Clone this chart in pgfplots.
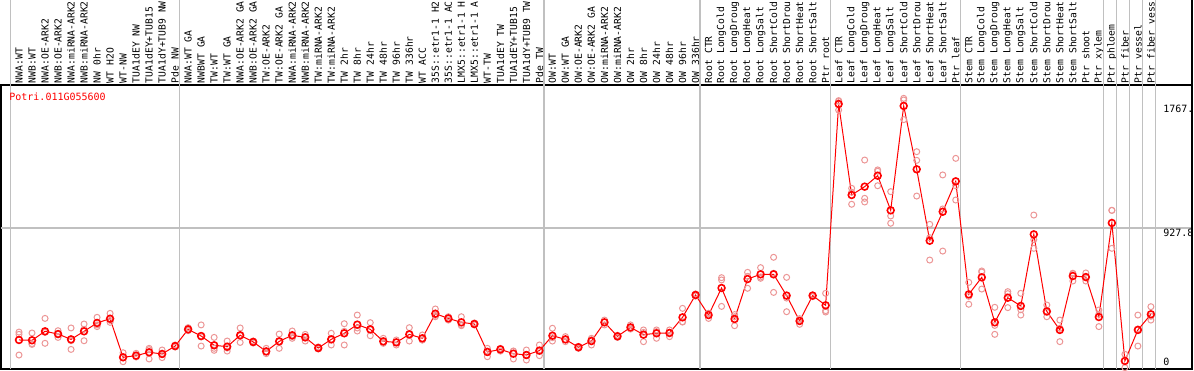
\documentclass[border=0pt]{standalone}
\usepackage{fontspec}
\setmainfont{DejaVu Sans Mono}
\setmonofont{DejaVu Sans Mono}
\usepackage{pgfplots}
\usepackage{pgfplotstable}
\pgfplotsset{compat=1.18}
\definecolor{rep}{RGB}{236,150,150}
\definecolor{sep}{RGB}{192,192,192}
\pgfplotstableread{
i m r1 r2 r3
0 191 243 228 92
1 189 237 167 162
2 248 333 241 169
3 230 252 230 208
4 195 270 129 186
5 248 296 186 261
6 303 340 290 279
7 331 366 307 320
8 77 107 48 75
9 88 103 81 79
10 110 136 66 127
11 99 125 75 97
12 151 158 151 145
13 261 272 252 259
14 217 290 151 211
15 156 208 123 136
16 147 184 118 138
17 222 270 175 219
18 178 184 178 171
19 116 136 101 112
20 182 230 136 180
21 222 250 202 213
22 208 228 184 213
23 138 145 138 132
24 195 235 158 193
25 235 298 158 248
26 292 355 250 270
27 261 305 219 259
28 182 202 169 175
29 175 191 158 178
30 228 272 184 228
31 202 224 191 191
32 364 395 344 353
33 333 344 322 333
34 307 344 285 292
35 296 303 296 290
36 112 136 81 118
37 129 136 118 134
38 101 118 66 118
39 92 125 59 92
40 121 158 88 116
41 219 268 184 206
42 195 213 180 193
43 143 149 143 136
44 184 202 158 193
45 307 322 290 309
46 215 222 215 208
47 274 290 263 270
48 226 257 180 241
49 235 257 202 246
50 237 257 213 241
51 340 399 311 309
52 487 494 487 480
53 355 366 333 366
54 533 601 586 412
55 329 344 285 358
56 592 636 531 610
57 623 667 597 605
58 623 735 504 630
59 483 603 377 467
60 316 322 294 331
61 483 487 476 485
62 419 498 384 375
63 1744 1766 1704 1761
64 1145 1189 1084 1163
65 1200 1375 1123 1099
66 1272 1310 1206 1301
67 1044 1167 1007 959
68 1731 1781 1641 1770
69 1314 1430 1138 1373
70 844 952 717 864
71 1035 1277 776 1053
72 1235 1386 1112 1206
73 491 570 426 478
74 603 645 526 638
75 307 406 228 287
76 469 509 404 496
77 415 498 355 390
78 886 1013 794 851
79 379 421 344 373
80 257 322 180 268
81 612 630 579 627
82 605 605 579 632
83 342 388 279 360
84 961 1044 794 1044
85 53 97 9 53
86 257 355 151 263
87 360 410 322 347
}\data
\begin{document}
\begin{tikzpicture}
\useasboundingbox (0,0) rectangle (597pt,185pt);
\begin{axis}[
  at={(0.5pt,0.5pt)}, anchor=south west,
  width=595.5pt, height=142pt, scale only axis,
  xmin=-1.3836, xmax=90.16, ymin=0, ymax=1868.8,
  clip=false,
  axis line style={line width=1pt},
  xtick={0,...,87},
  xticklabels={{NWA:WT},{NWB:WT},{NWA:OE-ARK2},{NWB:OE-ARK2},{NWA:miRNA-ARK2},{NWB:miRNA-ARK2},{NW 0hr},{WT H2O},{WT-NW},{TUA1dEY NW},{TUA1dEY+TUB15},{TUA1dY+TUB9 NW},{Pde NW},{NWA:WT GA},{NWBWT GA},{TW:WT},{TW:WT GA},{NWA:OE-ARK2 GA},{NWB:OE-ARK2 GA},{TW:OE-ARK2},{TW:OE-ARK2 GA},{NWA:miRNA-ARK2},{NWB:miRNA-ARK2},{TW:miRNA-ARK2},{TW:miRNA-ARK2},{TW 2hr},{TW 8hr},{TW 24hr},{TW 48hr},{TW 96hr},{TW 336hr},{WT ACC},{35S::etr1-1 H2},{35S::etr1-1 AC},{LMX5::etr1-1 H},{LMX5::etr1-1 A},{WT-TW},{TUA1dEY TW},{TUA1dEY+TUB15},{TUA1dY+TUB9 TW},{Pde TW},{OW:WT},{OW:WT GA},{OW:OE-ARK2},{OW:OE-ARK2 GA},{OW:miRNA-ARK2},{OW:miRNA-ARK2},{OW 2hr},{OW 8hr},{OW 24hr},{OW 48hr},{OW 96hr},{OW 336hr},{Root CTR},{Root LongCold},{Root LongDroug},{Root LongHeat},{Root LongSalt},{Root ShortCold},{Root ShortDrou},{Root ShortHeat},{Root ShortSalt},{Ptr root},{Leaf CTR},{Leaf LongCold},{Leaf LongDroug},{Leaf LongHeat},{Leaf LongSalt},{Leaf ShortCold},{Leaf ShortDrou},{Leaf ShortHeat},{Leaf ShortSalt},{Ptr leaf},{Stem CTR},{Stem LongCold},{Stem LongDroug},{Stem LongHeat},{Stem LongSalt},{Stem ShortCold},{Stem ShortDrou},{Stem ShortHeat},{Stem ShortSalt},{Ptr shoot},{Ptr xylem},{Ptr phloem},{Ptr fiber},{Ptr vessel},{Ptr fiber vess}},
  xticklabel pos=upper,
  major tick length=0pt,
  xticklabel style={rotate=90, anchor=west, inner xsep=0.8pt, inner ysep=0pt, font=\fontsize{4.85}{6}\selectfont},
  ytick=\empty,
]
\draw[sep, line width=0.6pt] (axis cs:-1.3836,927.8) -- (axis cs:90.16,927.8);
\draw[sep, line width=0.6pt] (axis cs:-0.65,0) -- (axis cs:-0.65,2428);
\draw[sep, line width=0.6pt] (axis cs:12.35,0) -- (axis cs:12.35,2428);
\draw[sep, line width=0.6pt] (axis cs:40.35,0) -- (axis cs:40.35,2428);
\draw[sep, line width=0.6pt] (axis cs:52.35,0) -- (axis cs:52.35,2428);
\draw[sep, line width=0.6pt] (axis cs:62.35,0) -- (axis cs:62.35,2428);
\draw[sep, line width=0.6pt] (axis cs:72.35,0) -- (axis cs:72.35,2428);
\draw[sep, line width=0.6pt] (axis cs:83.35,0) -- (axis cs:83.35,2428);
\draw[sep, line width=0.6pt] (axis cs:84.35,0) -- (axis cs:84.35,2428);
\draw[sep, line width=0.6pt] (axis cs:85.35,0) -- (axis cs:85.35,2428);
\draw[sep, line width=0.6pt] (axis cs:86.35,0) -- (axis cs:86.35,2428);
\draw[sep, line width=0.6pt] (axis cs:87.35,0) -- (axis cs:87.35,2428);
\draw[line width=1pt] (axis cs:90.16,0) -- (axis cs:90.16,2428);
\addplot[only marks, mark=o, mark size=1.5pt, mark options={rep, line width=0.5pt}] table[x=i,y=r1]{\data};
\addplot[only marks, mark=o, mark size=1.5pt, mark options={rep, line width=0.5pt}] table[x=i,y=r2]{\data};
\addplot[only marks, mark=o, mark size=1.5pt, mark options={rep, line width=0.5pt}] table[x=i,y=r3]{\data};
\addplot[red, line width=0.5pt, mark=o, mark size=1.7pt, mark options={line width=0.8pt}] table[x=i,y=m]{\data};
\node[anchor=north west, inner sep=0pt, text=red, font=\fontsize{5}{6}\selectfont] at (axis cs:-0.77,1819) {Potri.011G055600};
\node[anchor=west, inner sep=0pt, font=\fontsize{5}{6}\selectfont] at (axis cs:87.93,1711) {1767.};
\node[anchor=west, inner sep=0pt, font=\fontsize{5}{6}\selectfont] at (axis cs:87.93,895) {927.8};
\node[anchor=west, inner sep=0pt, font=\fontsize{5}{6}\selectfont] at (axis cs:87.93,46) {0};
\end{axis}
\end{tikzpicture}
\end{document}
